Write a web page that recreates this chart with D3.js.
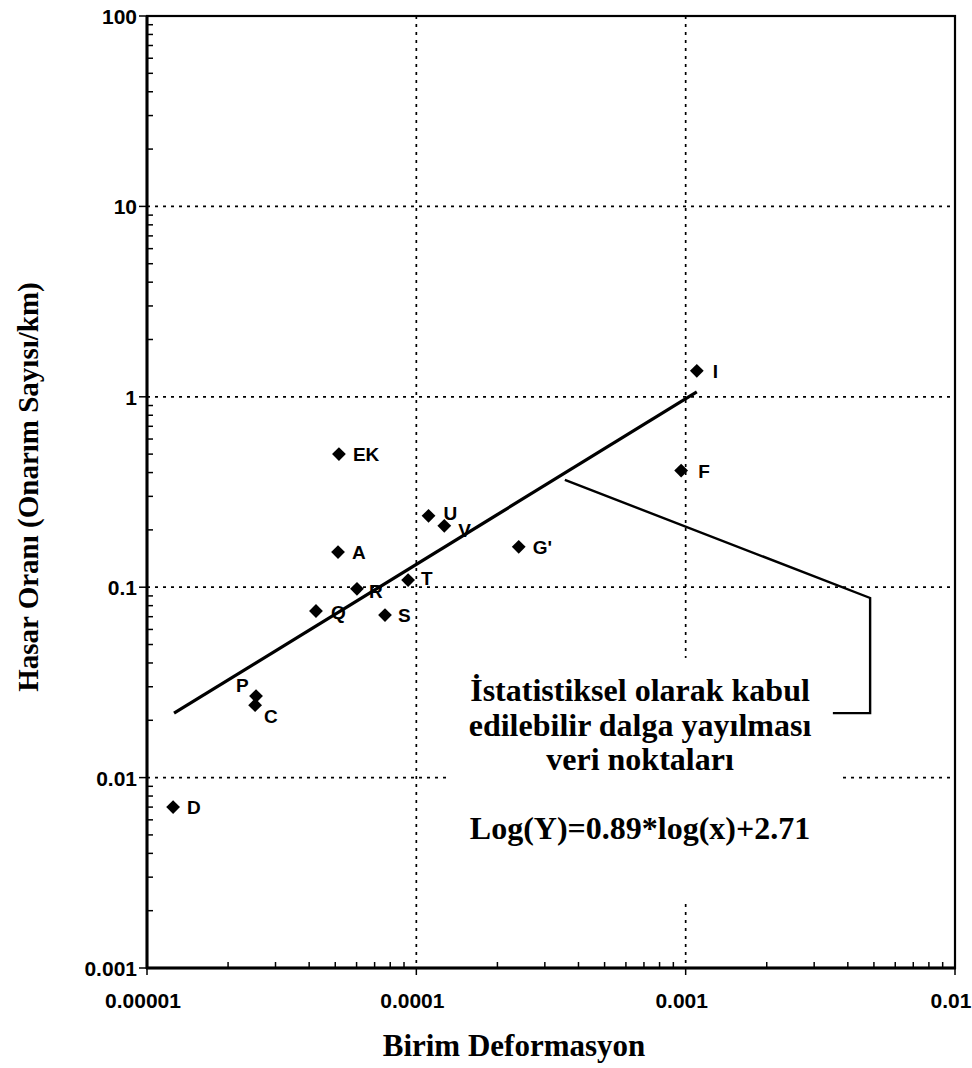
<!DOCTYPE html>
<html>
<head>
<meta charset="utf-8">
<script src="https://cdn.jsdelivr.net/npm/d3@7"></script>
<style>
  html, body { margin: 0; padding: 0; background: #fff; }
  svg { display: block; }
</style>
</head>
<body>
<svg id="chart" width="972" height="1068"></svg>
<script>
// ---- data ----
const pointNames = ["I", "F", "G'", "EK", "U", "V", "A", "T", "R", "Q", "S", "P", "C", "D"];
const pointX = [0.00110, 0.000962, 0.000240, 0.0000516, 0.000111, 0.000127, 0.0000512, 0.0000932, 0.0000602, 0.0000424, 0.0000765, 0.0000254, 0.0000252, 0.0000125];
const pointY = [1.37, 0.41, 0.163, 0.50, 0.237, 0.21, 0.153, 0.109, 0.098, 0.075, 0.0714, 0.0268, 0.0240, 0.0070];

// fitted line (endpoints as drawn)
const fitX = [0.0000126, 0.00110];
const fitY = [0.0218, 1.06];

// callout bracket
const calloutX = [0.000356, 0.00484, 0.00484, 0.00352];
const calloutY = [0.366, 0.0878, 0.0218, 0.0218];

const xTicks = [0.00001, 0.0001, 0.001, 0.01];
const xTickLabels = ["0.00001", "0.0001", "0.001", "0.01"];
const yTicks = [0.001, 0.01, 0.1, 1, 10, 100];
const yTickLabels = ["0.001", "0.01", "0.1", "1", "10", "100"];
const xGrid = [0.0001, 0.001];
const yGrid = [0.01, 0.1, 1, 10];

const noteLines = ["İstatistiksel olarak kabul", "edilebilir dalga yayılması", "veri noktaları", "", "Log(Y)=0.89*log(x)+2.71"];
const xTitle = "Birim Deformasyon";
const yTitle = "Hasar Oranı (Onarım Sayısı/km)";

// ---- layout ----
const L = 147, R = 955, T = 16, B = 968;
const svg = d3.select("#chart");
const x = d3.scaleLog().domain([0.00001, 0.01]).range([L, R]);
const y = d3.scaleLog().domain([0.001, 100]).range([B, T]);

// label offsets (style, not data)
const labelOffset = {
  "I": [16, 0], "F": [17, 0], "G'": [14, 0], "EK": [14, 0], "U": [15, -3], "V": [14, 4],
  "A": [14, 0], "T": [13, -2], "R": [12, 2], "Q": [15, 1], "S": [13, 0], "P": [-20, -11],
  "C": [9, 11], "D": [14, 0]
};

// gridlines
const grid = svg.append("g").attr("stroke", "#000").attr("stroke-width", 1.7).attr("stroke-dasharray", "3,5");
grid.selectAll("line.gx").data(xGrid).join("line")
  .attr("x1", d => x(d)).attr("x2", d => x(d)).attr("y1", T).attr("y2", B);
grid.selectAll("line.gy").data(yGrid).join("line")
  .attr("y1", d => y(d)).attr("y2", d => y(d)).attr("x1", L).attr("x2", R);

// white box behind note (hides gridlines)
svg.append("rect")
  .attr("x", x(0.000131)).attr("y", y(0.0425))
  .attr("width", x(0.00378) - x(0.000131))
  .attr("height", y(0.00228) - y(0.0425))
  .attr("fill", "#fff");

// minor ticks
const minorX = [];
for (let e = -5; e < -2; e++) for (let m = 2; m <= 9; m++) minorX.push(m * Math.pow(10, e));
const minorY = [];
for (let e = -3; e < 2; e++) for (let m = 2; m <= 9; m++) minorY.push(m * Math.pow(10, e));

const ticks = svg.append("g").attr("stroke", "#000").attr("stroke-width", 1.5);
ticks.selectAll("line.mx").data(minorX).join("line")
  .attr("x1", d => x(d)).attr("x2", d => x(d)).attr("y1", B).attr("y2", B - 6);
ticks.selectAll("line.my").data(minorY).join("line")
  .attr("y1", d => y(d)).attr("y2", d => y(d)).attr("x1", L).attr("x2", L + 6);
ticks.selectAll("line.Mx").data(xTicks).join("line")
  .attr("x1", d => x(d)).attr("x2", d => x(d)).attr("y1", B).attr("y2", B + 7);
ticks.selectAll("line.My").data(yTicks).join("line")
  .attr("y1", d => y(d)).attr("y2", d => y(d)).attr("x1", L - 8).attr("x2", L);

// frame
svg.append("rect").attr("x", L).attr("y", T).attr("width", R - L).attr("height", B - T)
  .attr("fill", "none").attr("stroke", "#000").attr("stroke-width", 2.2);
svg.append("line").attr("x1", L).attr("x2", L).attr("y1", T).attr("y2", B + 1).attr("stroke", "#000").attr("stroke-width", 3);
svg.append("line").attr("x1", L - 1).attr("x2", R + 1).attr("y1", B).attr("y2", B).attr("stroke", "#000").attr("stroke-width", 3);

// tick labels
svg.append("g").selectAll("text").data(xTicks).join("text")
  .attr("x", d => x(d) - 4).attr("y", 1008)
  .attr("text-anchor", "middle")
  .attr("font-family", "'Liberation Sans', Arial, sans-serif").attr("font-weight", "bold").attr("font-size", 21)
  .text((d, i) => xTickLabels[i]);
svg.append("g").selectAll("text").data(yTicks).join("text")
  .attr("x", 137).attr("y", d => y(d) + 8)
  .attr("text-anchor", "end")
  .attr("font-family", "'Liberation Sans', Arial, sans-serif").attr("font-weight", "bold").attr("font-size", 21)
  .text((d, i) => yTickLabels[i]);

// fitted line
const pts = fitX.map((d, i) => [x(d), y(fitY[i])]);
svg.append("path").attr("d", d3.line()(pts)).attr("fill", "none").attr("stroke", "#000").attr("stroke-width", 3.2);

// callout
const cpts = calloutX.map((d, i) => [x(d), y(calloutY[i])]);
svg.append("path").attr("d", d3.line()(cpts)).attr("fill", "none").attr("stroke", "#000").attr("stroke-width", 2.4);

// points
const data = pointNames.map((n, i) => ({ name: n, x: pointX[i], y: pointY[i] }));
const sym = d3.symbol(d3.symbolSquare, 95);
svg.append("g").selectAll("path").data(data).join("path")
  .attr("d", sym)
  .attr("transform", d => `translate(${x(d.x)},${y(d.y)}) rotate(45)`)
  .attr("fill", "#000");
svg.append("g").selectAll("text").data(data).join("text")
  .attr("x", d => x(d.x) + labelOffset[d.name][0])
  .attr("y", d => y(d.y) + labelOffset[d.name][1] + 7)
  .attr("font-family", "'Liberation Sans', Arial, sans-serif").attr("font-weight", "bold").attr("font-size", 19)
  .text(d => d.name);

// note text
svg.append("g").selectAll("text").data(noteLines).join("text")
  .attr("x", 640).attr("y", (d, i) => 701 + i * 34.5)
  .attr("text-anchor", "middle")
  .attr("font-family", "'Liberation Serif', 'Times New Roman', serif").attr("font-weight", "bold").attr("font-size", 32)
  .text(d => d);

// axis titles
svg.append("text").attr("x", 514).attr("y", 1056).attr("text-anchor", "middle")
  .attr("font-family", "'Liberation Serif', 'Times New Roman', serif").attr("font-weight", "bold").attr("font-size", 31)
  .text(xTitle);
svg.append("text").attr("transform", "translate(38,487) rotate(-90)").attr("text-anchor", "middle")
  .attr("font-family", "'Liberation Serif', 'Times New Roman', serif").attr("font-weight", "bold").attr("font-size", 29)
  .text(yTitle);
</script>
</body>
</html>
